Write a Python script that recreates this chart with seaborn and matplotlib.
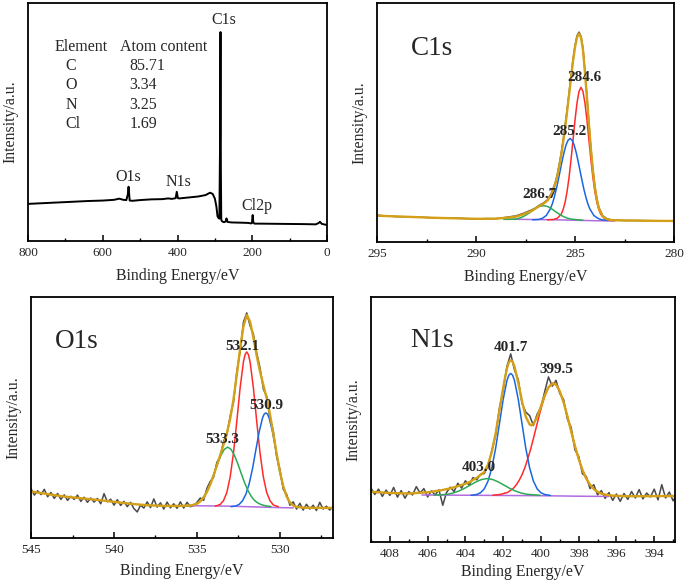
import matplotlib
matplotlib.use("Agg")
import matplotlib.pyplot as plt
import seaborn as sns
from matplotlib.ticker import MultipleLocator

sns.set_theme(style="ticks")
plt.rcParams["font.family"] = ["Liberation Serif", "DejaVu Serif"]
plt.rcParams["axes.linewidth"] = 1.3

# -----------------------------------
# Survey spectrum (intensity in % of panel height)
# -----------------------------------
survey_e = [800, 760, 720, 680, 640, 600, 570, 556, 545, 537,
            533, 531, 528, 520, 500, 470, 440, 425, 415, 405,
            402, 399, 395, 370, 345, 325, 313, 306, 300, 296,
            293, 290, 288, 286, 285, 284, 283, 281, 276, 271,
            269, 266, 255, 230, 210, 204, 201, 199, 197, 194,
            180, 120, 60, 30, 22, 19, 14, 5, 0]
survey_i = [15.6, 15.9, 16.2, 16.5, 16.8, 17.0, 17.3, 17.8, 17.3, 17.2,
            19.5, 22.8, 17.0, 16.9, 17.2, 17.5, 17.6, 17.9, 17.7, 18.0,
            20.7, 18.0, 17.9, 18.3, 18.7, 19.3, 20.3, 19.8, 17.8, 14.5,
            10.4, 9.6, 9.4, 45.0, 87.8, 30.0, 9.0, 8.3, 7.9, 8.2,
            9.5, 8.0, 7.8, 7.7, 7.6, 7.4, 7.5, 10.9, 7.8, 7.3,
            7.3, 7.2, 7.1, 7.0, 7.6, 8.1, 7.2, 6.9, 6.7]
elements = ["C", "O", "N", "Cl"]
atom_content = [85.71, 3.34, 3.25, 1.69]
survey_peaks = ["O1s", "N1s", "C1s", "Cl2p"]

# -----------------------------------
# C1s high resolution
# -----------------------------------
c1s_env_e = [295, 294, 293, 292, 291, 290, 289.5, 289, 288.5, 288,
             287.6, 287.2, 287.0, 286.8, 286.6, 286.4, 286.2, 286.0,
             285.9, 285.8, 285.7, 285.6, 285.5, 285.4, 285.3, 285.2, 285.1, 285.0,
             284.9, 284.8, 284.7, 284.6, 284.5, 284.4, 284.3, 284.2, 284.1, 284.0,
             283.9, 283.8, 283.6, 283.4, 283.2, 283.0, 282.5, 282, 281, 280]
c1s_env_i = [11.0, 10.7, 10.4, 10.1, 9.9, 9.7, 9.7, 9.8, 10.1, 10.6,
             11.6, 13.0, 14.0, 15.1, 16.0, 17.3, 19.7, 24.2,
             27.4, 31.6, 36.2, 41.8, 47.9, 54.6, 61.7, 68.9, 75.8, 81.6,
             85.6, 87.2, 85.6, 80.5, 71.0, 60.5, 49.5, 39.0, 30.0, 23.0,
             17.8, 14.2, 10.7, 9.6, 9.2, 9.1, 9.0, 8.95, 8.85, 8.8]
c1s_raw_i = [11.2, 10.6, 10.5, 10.0, 10.0, 9.6, 9.8, 9.7, 10.3, 10.9,
             12.0, 13.4, 14.2, 15.4, 16.3, 17.6, 20.3, 24.8,
             28.0, 32.4, 37.0, 42.6, 48.6, 55.4, 62.4, 69.6, 76.4, 82.2,
             86.3, 87.8, 86.1, 81.2, 71.6, 61.0, 49.8, 39.2, 30.3, 23.4,
             18.1, 14.5, 10.9, 9.8, 9.3, 9.2, 9.0, 9.0, 8.9, 8.8]
c1s_red_e = [286.4, 286.1, 285.9, 285.7, 285.6, 285.5, 285.4, 285.3, 285.2, 285.1,
             285.0, 284.9, 284.8, 284.7, 284.6, 284.5, 284.4, 284.3, 284.2, 284.1,
             284.0, 283.9, 283.8, 283.7, 283.5, 283.3, 283.0]
c1s_red_i = [9.3, 9.4, 9.9, 11.6, 13.6, 16.7, 21.2, 27.2, 34.6, 42.9,
             51.1, 58.2, 63.0, 64.7, 63.0, 58.2, 51.1, 42.9, 34.6, 27.2,
             21.2, 16.7, 13.6, 11.6, 9.7, 9.1, 9.0]
c1s_blue_e = [287.15, 286.85, 286.65, 286.45, 286.25, 286.15, 286.05, 285.95, 285.85, 285.75,
              285.65, 285.55, 285.45, 285.35, 285.25, 285.15, 285.05, 284.95, 284.85, 284.75,
              284.65, 284.55, 284.45, 284.35, 284.25, 284.05, 283.85, 283.65, 283.35]
c1s_blue_i = [9.3, 9.4, 9.9, 11.1, 13.8, 15.9, 18.7, 22.0, 25.8, 29.9,
              34.0, 37.7, 40.7, 42.6, 43.3, 42.6, 40.7, 37.7, 34.0, 29.9,
              25.8, 22.0, 18.7, 15.9, 13.8, 11.1, 9.9, 9.3, 9.0]
c1s_green_e = [288.6, 288.2, 288.0, 287.8, 287.6, 287.4, 287.2, 287.0, 286.8, 286.6,
               286.4, 286.2, 286.0, 285.8, 285.6, 285.4, 285.2, 285.0, 284.6]
c1s_green_i = [9.5, 9.5, 9.6, 10.0, 10.7, 11.7, 12.8, 14.0, 14.9, 15.2,
               14.9, 14.0, 12.8, 11.7, 10.7, 10.0, 9.6, 9.4, 9.1]
c1s_base_e = [288.4, 288.0, 287.0, 286.0, 285.0, 284.0, 283.0]
c1s_base_i = [9.6, 9.5, 9.4, 9.3, 9.1, 8.9, 8.8]
c1s_peaks = [284.6, 285.2, 286.7]

# -----------------------------------
# O1s high resolution
# -----------------------------------
o1s_raw_e = [545.0, 544.8, 544.6, 544.4, 544.2, 544.0, 543.8, 543.6, 543.4, 543.2,
             543.0, 542.8, 542.6, 542.4, 542.2, 542.0, 541.8, 541.6, 541.4, 541.2,
             541.0, 540.8, 540.6, 540.4, 540.2, 540.0, 539.8, 539.6, 539.4, 539.2,
             539.0, 538.8, 538.6, 538.4, 538.2, 538.0, 537.8, 537.6, 537.4, 537.2,
             537.0, 536.8, 536.6, 536.4, 536.2, 536.0, 535.8, 535.6, 535.4, 535.2,
             535.0, 534.8, 534.6, 534.4, 534.2, 534.0, 533.8, 533.6, 533.4, 533.2,
             533.0, 532.8, 532.6, 532.4, 532.2, 532.0, 531.8, 531.6, 531.4, 531.2,
             531.0, 530.8, 530.6, 530.4, 530.2, 530.0, 529.8, 529.6, 529.4, 529.2,
             529.0, 528.8, 528.6, 528.4, 528.2, 528.0, 527.8, 527.6, 527.4, 527.2,
             527.0, 526.8]
o1s_raw_i = [20.5, 17.8, 19.6, 18.0, 20.2, 17.1, 18.9, 16.4, 18.5, 16.0,
             17.9, 15.6, 17.3, 16.0, 17.8, 15.2, 16.9, 14.8, 16.6, 14.9,
             16.4, 14.2, 18.4, 15.0, 16.1, 13.6, 15.9, 13.5, 15.2, 13.0,
             14.8, 12.2, 10.8, 13.6, 12.4, 15.0, 12.6, 16.2, 12.8, 14.6,
             12.0, 14.9, 12.5, 14.2, 12.3, 15.0, 12.4, 14.8, 13.0, 13.4,
             14.8, 16.6, 15.6, 20.6, 23.5, 25.2, 31.4, 33.6, 40.2, 42.8,
             50.6, 56.2, 69.0, 77.4, 89.6, 93.4, 88.0, 84.6, 76.8, 70.6,
             61.8, 58.8, 49.6, 44.4, 33.8, 28.4, 20.2, 18.2, 13.6, 15.0,
             12.0, 14.4, 11.6, 14.0, 12.0, 13.6, 11.4, 14.8, 12.0, 13.2,
             11.6, 13.0]
o1s_env_e = [545, 544, 543, 542, 541, 540, 539, 538, 537, 536,
             535.4, 535.2, 535.0, 534.8, 534.6, 534.4, 534.2, 534.0, 533.8, 533.6,
             533.4, 533.2, 533.0, 532.8, 532.6, 532.4, 532.2, 532.0, 531.8, 531.6,
             531.4, 531.2, 531.0, 530.8, 530.6, 530.4, 530.2, 530.0, 529.8, 529.6,
             529.4, 529.2, 529.0, 528.6, 528.0, 527.0, 526.8]
o1s_env_i = [19.3, 18.2, 17.2, 16.5, 15.8, 15.0, 14.2, 13.6, 13.3, 13.3,
             13.5, 13.8, 14.2, 15.2, 16.8, 19.1, 22.2, 26.0, 30.1, 34.4,
             38.7, 43.4, 49.4, 57.5, 67.7, 78.6, 87.8, 92.5, 89.8, 83.1,
             75.6, 69.0, 63.5, 58.0, 51.3, 43.3, 35.0, 27.4, 21.4, 17.3,
             14.7, 13.5, 12.9, 12.6, 12.5, 12.5, 12.4]
o1s_red_e = [533.9, 533.6, 533.4, 533.2, 533.0, 532.8, 532.6, 532.4, 532.2, 532.1,
             532.0, 531.9, 531.8, 531.6, 531.4, 531.2, 531.0, 530.8, 530.6, 530.4, 530.1]
o1s_red_i = [13.2, 13.9, 15.5, 18.9, 25.3, 35.3, 48.4, 62.3, 73.1, 76.1,
             77.2, 76.1, 73.1, 62.3, 48.4, 35.3, 25.3, 18.9, 15.5, 13.7, 13.0]
o1s_blue_e = [532.95, 532.65, 532.45, 532.25, 532.05, 531.85, 531.65, 531.45, 531.25, 531.05,
              530.95, 530.85, 530.75, 530.65, 530.45, 530.25, 530.05, 529.85, 529.65, 529.45,
              529.25, 529.05, 528.75]
o1s_blue_i = [13.0, 13.3, 14.0, 15.5, 18.2, 22.6, 28.9, 36.6, 44.1, 49.8,
              51.4, 51.9, 51.4, 49.8, 44.1, 36.6, 28.9, 22.6, 18.2, 15.3,
              13.8, 13.0, 12.7]
o1s_green_e = [535.75, 535.45, 535.15, 534.95, 534.75, 534.55, 534.35, 534.15, 533.95, 533.75,
               533.55, 533.35, 533.15, 532.95, 532.75, 532.55, 532.35, 532.15, 531.95, 531.75,
               531.55, 531.35, 531.15, 530.85, 530.55]
o1s_green_i = [13.3, 13.4, 13.9, 14.6, 15.7, 17.5, 20.0, 23.3, 27.1, 31.0,
               34.4, 36.8, 37.7, 36.8, 34.4, 31.0, 27.1, 23.3, 20.0, 17.5,
               15.7, 14.6, 13.9, 13.3, 13.1]
o1s_base_e = [535.7, 534.0, 533.0, 532.0, 531.0, 530.0, 529.2]
o1s_base_i = [13.4, 13.3, 13.2, 13.0, 12.8, 12.6, 12.5]
o1s_peaks = [532.1, 530.9, 533.3]

# -----------------------------------
# N1s high resolution
# -----------------------------------
n1s_raw_e = [409.0, 408.8, 408.6, 408.4, 408.2, 408.0, 407.8, 407.6, 407.4, 407.2,
             407.0, 406.8, 406.6, 406.4, 406.2, 406.0, 405.8, 405.6, 405.4, 405.2,
             405.0, 404.8, 404.6, 404.4, 404.2, 404.0, 403.8, 403.6, 403.4, 403.2,
             403.0, 402.8, 402.6, 402.4, 402.2, 402.0, 401.8, 401.6, 401.4, 401.2,
             401.0, 400.8, 400.6, 400.4, 400.2, 400.0, 399.8, 399.6, 399.4, 399.2,
             399.0, 398.8, 398.6, 398.4, 398.2, 398.0, 397.8, 397.6, 397.4, 397.2,
             397.0, 396.8, 396.6, 396.4, 396.2, 396.0, 395.8, 395.6, 395.4, 395.2,
             395.0, 394.8, 394.6, 394.4, 394.2, 394.0, 393.8, 393.6, 393.4, 393.2,
             393.0, 392.8]
n1s_raw_i = [22.0, 19.4, 21.6, 18.6, 21.2, 19.0, 22.3, 18.3, 21.0, 17.9,
             20.6, 19.2, 22.6, 20.0, 21.8, 18.4, 20.9, 19.2, 21.3, 15.0,
             20.2, 22.4, 20.6, 24.0, 22.0, 25.0, 23.2, 26.3, 25.4, 27.6,
             28.0, 31.0, 37.4, 43.6, 54.6, 62.0, 71.8, 76.8, 70.2, 66.2,
             56.6, 53.0, 51.6, 47.6, 52.2, 55.0, 61.4, 67.4, 63.6, 66.0,
             60.6, 58.2, 50.2, 46.8, 37.6, 35.0, 27.8, 26.8, 21.8, 23.4,
             19.2, 21.0, 17.8, 20.2, 17.0, 19.6, 16.6, 19.8, 17.4, 20.6,
             18.0, 21.4, 17.6, 20.0, 18.4, 21.6, 17.2, 23.4, 18.0, 20.4,
             16.8, 19.6]
n1s_env_e = [409.0, 408.0, 407.0, 406.0, 405.3, 404.8, 404.4, 404.0, 403.8, 403.4,
             403.0, 402.8, 402.6, 402.4, 402.2, 402.0, 401.9, 401.8, 401.7, 401.6,
             401.5, 401.4, 401.2, 401.0, 400.8, 400.6, 400.5, 400.4, 400.2, 400.0,
             399.8, 399.6, 399.35, 399.2, 399.0, 398.8, 398.6, 398.4, 398.2, 398.0,
             397.8, 397.6, 397.4, 397.2, 397.0, 396.7, 396.3, 395.5, 394.5, 392.8]
n1s_env_i = [20.5, 20.0, 19.8, 20.3, 21.1, 21.9, 22.8, 23.8, 24.4, 26.2,
             28.6, 31.7, 36.8, 44.3, 53.6, 62.9, 67.2, 70.8, 73.4, 74.2,
             73.6, 71.6, 65.0, 57.3, 51.1, 48.0, 47.6, 48.2, 51.0, 55.4,
             59.8, 63.2, 64.8, 64.3, 61.5, 57.0, 51.4, 45.2, 39.2, 33.9,
             29.4, 25.9, 23.4, 21.6, 20.5, 19.5, 19.0, 18.7, 18.7, 18.8]
n1s_blue_e = [403.7, 403.4, 403.2, 403.0, 402.8, 402.6, 402.4, 402.2, 402.0, 401.8,
              401.7, 401.6, 401.5, 401.4, 401.2, 401.0, 400.8, 400.6, 400.4, 400.2,
              400.0, 399.8, 399.5]
n1s_blue_i = [19.07, 19.4, 20.1, 21.7, 24.9, 30.3, 38.2, 48.2, 58.2, 65.9,
              68.1, 68.8, 68.1, 65.9, 58.2, 48.2, 38.2, 30.3, 24.9, 21.7,
              20.1, 19.4, 19.0]
n1s_red_e = [402.55, 402.15, 401.75, 401.45, 401.3, 401.15, 401.0, 400.85, 400.7, 400.55,
             400.4, 400.25, 400.1, 399.95, 399.8, 399.65, 399.5, 399.35, 399.2, 399.05,
             398.9, 398.75, 398.6, 398.45, 398.3, 398.15, 398.0, 397.85, 397.7, 397.55,
             397.4, 397.25, 396.95, 396.55, 396.15]
n1s_red_i = [19.1, 19.4, 20.3, 22.0, 23.4, 25.2, 27.5, 30.4, 33.9, 37.8,
             42.2, 46.8, 51.4, 55.7, 59.4, 62.3, 64.2, 64.8, 64.2, 62.3,
             59.4, 55.7, 51.4, 46.8, 42.2, 37.8, 33.9, 30.4, 27.5, 25.2,
             23.4, 22.0, 20.1, 19.2, 18.8]
n1s_green_e = [405.65, 405.25, 404.95, 404.65, 404.35, 404.05, 403.75, 403.45, 403.15, 402.85,
               402.55, 402.25, 401.95, 401.65, 401.35, 401.05, 400.75, 400.45, 400.05]
n1s_green_i = [19.15, 19.3, 19.5, 20.0, 20.8, 21.9, 23.2, 24.5, 25.5, 25.9,
               25.5, 24.5, 23.2, 21.9, 20.8, 20.0, 19.5, 19.3, 19.1]
n1s_base_e = [406.3, 404.0, 402.0, 400.0, 398.0, 396.4]
n1s_base_i = [19.2, 19.1, 19.0, 18.9, 18.7, 18.6]
n1s_peaks = [401.7, 399.5, 403.0]

# -----------------------------------
# Colours
# -----------------------------------
RAW = "#4a4a4a"
ENV = "#D4A017"
RED = "#FF2B2B"
BLUE = "#1A66E0"
GREEN = "#2DAA55"
PURPLE = "#B36BE0"


def line(ax, x, y, color, lw):
    sns.lineplot(x=x, y=y, ax=ax, color=color, linewidth=lw,
                 sort=False, estimator=None, legend=False)


def style_axes(ax, xlim, major, minor, xpad=6):
    ax.set_xlim(*xlim)
    ax.set_ylim(0, 100)
    ax.xaxis.set_major_locator(MultipleLocator(major))
    ax.xaxis.set_minor_locator(MultipleLocator(minor))
    ax.tick_params(axis="x", which="major", direction="in", length=4,
                   width=1.1, labelsize=9.5, pad=4.5, color="black")
    ax.tick_params(axis="x", which="minor", direction="in", length=2.2,
                   width=1.0, color="black")
    ax.set_yticks([])
    for s in ax.spines.values():
        s.set_linewidth(1.3)
        s.set_color("black")
    ax.set_xlabel("Binding Energy/eV", fontsize=11.4, labelpad=xpad)
    ax.set_ylabel("Intensity/a.u.", fontsize=11.4, labelpad=7)


def fit_panel(ax, raw, env, comps, base):
    line(ax, raw[0], raw[1], RAW, 1.1)
    line(ax, base[0], base[1], PURPLE, 1.1)
    for (xe, yi), col in zip(comps, [RED, BLUE, GREEN]):
        line(ax, xe, yi, col, 1.1)
    line(ax, env[0], env[1], ENV, 1.7)


fig = plt.figure(figsize=(6.85, 5.83), dpi=100)

# -----------------------------------
# Survey
# -----------------------------------
ax1 = fig.add_axes([0.0409, 0.5866, 0.4365, 0.4082])
line(ax1, survey_e, survey_i, "black", 1.4)
style_axes(ax1, (800, 0), 200, 100)
for name, (px, py) in zip(survey_peaks, [(531.6, 27.0), (396, 24.9), (275.6, 92.9), (186.5, 14.8)]):
    ax1.text(px, py, name, fontsize=11.5, ha="center", va="center")
ax1.text(729.6, 81.6, "Element", fontsize=11.5, ha="left", va="center")
ax1.text(553.8, 81.6, "Atom content", fontsize=11.5, ha="left", va="center")
for k, (el, val) in enumerate(zip(elements, atom_content)):
    yy = 73.5 - k * 8.15
    ax1.text(699, yy, el, fontsize=11.5, ha="left", va="center")
    ax1.text(529, yy, f"{val:.2f}", fontsize=11.5, ha="left", va="center")

# -----------------------------------
# C1s
# -----------------------------------
ax2 = fig.add_axes([0.5504, 0.5849, 0.4336, 0.41])
fit_panel(ax2, (c1s_env_e, c1s_raw_i), (c1s_env_e, c1s_env_i),
          [(c1s_red_e, c1s_red_i), (c1s_blue_e, c1s_blue_i), (c1s_green_e, c1s_green_i)],
          (c1s_base_e, c1s_base_i))
style_axes(ax2, (295, 280), 5, 2.5)
ax2.text(0.184, 0.81, "C1s", transform=ax2.transAxes, fontsize=19.5, ha="center", va="center")
for val, (px, py) in zip(c1s_peaks, [(284.53, 68.8), (285.29, 46.2), (286.77, 19.7)]):
    ax2.text(px, py, f"{val:.1f}", fontsize=11, fontweight="bold", ha="center", va="center")

# -----------------------------------
# O1s
# -----------------------------------
ax3 = fig.add_axes([0.0453, 0.0772, 0.4409, 0.4134])
fit_panel(ax3, (o1s_raw_e, o1s_raw_i), (o1s_env_e, o1s_env_i),
          [(o1s_red_e, o1s_red_i), (o1s_blue_e, o1s_blue_i), (o1s_green_e, o1s_green_i)],
          (o1s_base_e, o1s_base_i))
style_axes(ax3, (545, 526.8), 5, 2.5, xpad=5)
ax3.text(0.153, 0.815, "O1s", transform=ax3.transAxes, fontsize=19.5, ha="center", va="center")
for val, (px, py) in zip(o1s_peaks, [(532.24, 79.3), (530.84, 54.8), (533.48, 41.0)]):
    ax3.text(px, py, f"{val:.1f}", fontsize=11, fontweight="bold", ha="center", va="center")

# -----------------------------------
# N1s
# -----------------------------------
ax4 = fig.add_axes([0.5416, 0.0703, 0.4438, 0.4202])
fit_panel(ax4, (n1s_raw_e, n1s_raw_i), (n1s_env_e, n1s_env_i),
          [(n1s_red_e, n1s_red_i), (n1s_blue_e, n1s_blue_i), (n1s_green_e, n1s_green_i)],
          (n1s_base_e, n1s_base_i))
style_axes(ax4, (409, 392.9), 2, 1, xpad=2.5)
ax4.text(0.2, 0.824, "N1s", transform=ax4.transAxes, fontsize=19.5, ha="center", va="center")
for val, (px, py) in zip(n1s_peaks, [(401.59, 79.5), (399.16, 70.5), (403.30, 30.3)]):
    ax4.text(px, py, f"{val:.1f}", fontsize=11, fontweight="bold", ha="center", va="center")

fig.savefig("out.png", dpi=100)
